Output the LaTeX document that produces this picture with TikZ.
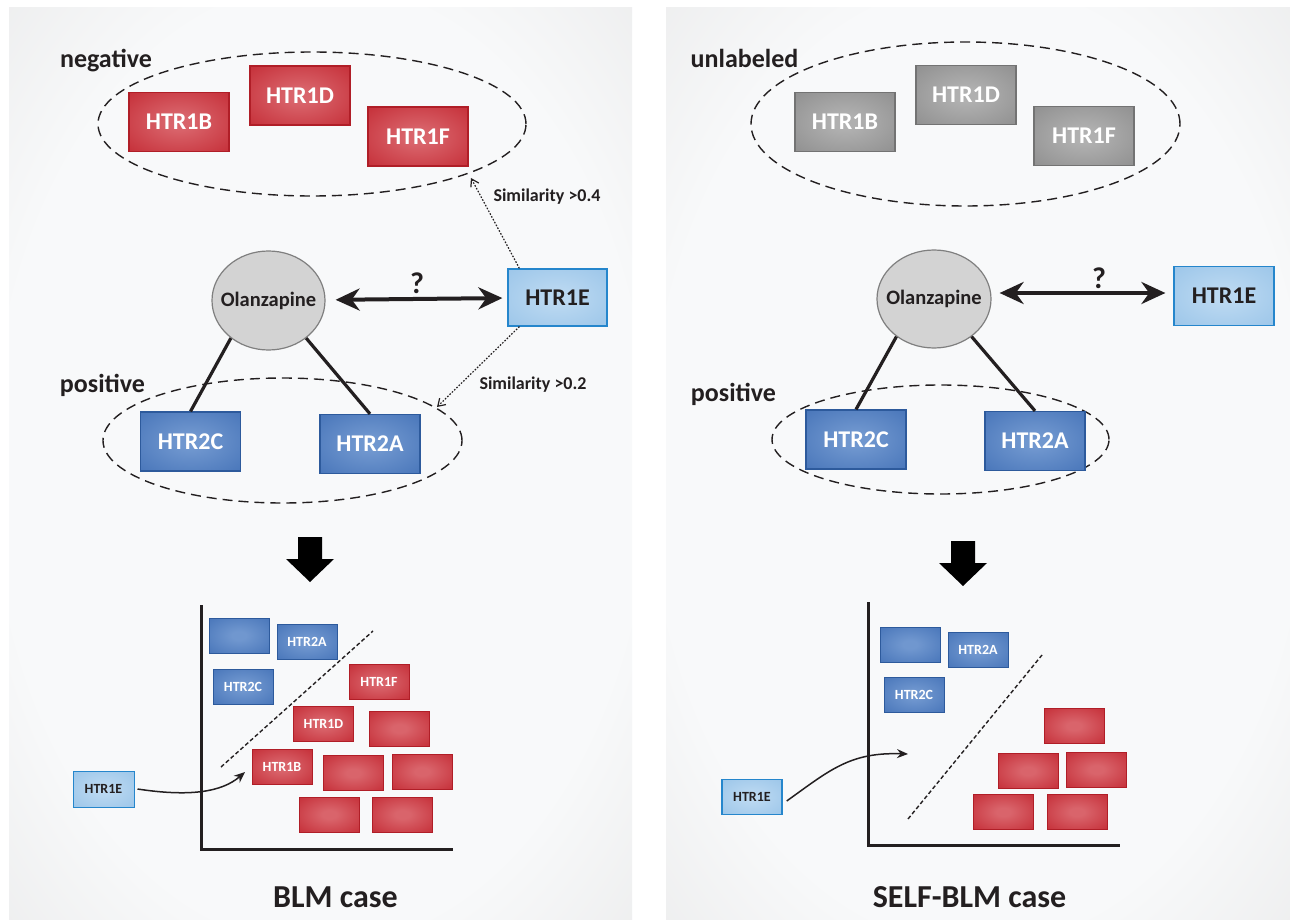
\documentclass[tikz,border=0pt]{standalone}
\usepackage{fontspec}
\setmainfont{Carlito}
\usetikzlibrary{arrows.meta,shapes.geometric}

\definecolor{redout}{HTML}{C0212B}
\definecolor{redin}{HTML}{D9646B}
\definecolor{redline}{HTML}{B01E27}
\definecolor{blueout}{HTML}{3E6DB4}
\definecolor{bluein}{HTML}{7097CF}
\definecolor{blueline}{HTML}{2D5A9C}
\definecolor{skyout}{HTML}{94C1E7}
\definecolor{skyin}{HTML}{BAD8F1}
\definecolor{skyline}{HTML}{2586CC}
\definecolor{greyout}{HTML}{878787}
\definecolor{greyin}{HTML}{B0B0B0}
\definecolor{greyline}{HTML}{737373}
\definecolor{drugfill}{HTML}{D3D3D3}
\definecolor{drugline}{HTML}{7F7F7F}
\definecolor{panelin}{HTML}{F8F9FA}
\definecolor{paneledge}{HTML}{E0E0E0}
\definecolor{ink}{HTML}{231F20}

\makeatletter
% soft centre glow for the gene boxes
\pgfdeclareradialshading[tikz@radial@inner,tikz@radial@outer]{glow}{\pgfpoint{0bp}{0bp}}{%
  color(0bp)=(tikz@radial@inner);color(6bp)=(tikz@radial@inner);
  color(44bp)=(tikz@radial@outer);color(50bp)=(tikz@radial@outer)}
\makeatother
% light panel with greyish rim
\pgfdeclareradialshading{panelshade}{\pgfpoint{0bp}{0bp}}{%
  color(0bp)=(panelin);color(26bp)=(panelin);
  color(50bp)=(paneledge);color(72bp)=(paneledge)}

\tikzset{
  gene/.style={rectangle, inner sep=0pt, line width=1.2pt,
    minimum width=100pt, minimum height=59pt,
    font=\fontsize{24}{28}\selectfont\bfseries},
  small/.style={minimum width=60pt, minimum height=35pt, line width=1pt,
    font=\fontsize{14}{16}\selectfont\bfseries},
  neg/.style={draw=redline, inner color=redin, outer color=redout, shading=glow, text=white},
  posbox/.style={draw=blueline, inner color=bluein, outer color=blueout, shading=glow, text=white},
  query/.style={draw=skyline, inner color=skyin, outer color=skyout, shading=glow, text=ink},
  unl/.style={draw=greyline, inner color=greyin, outer color=greyout, shading=glow, text=white},
  drug/.style={ellipse, draw=drugline, fill=drugfill, line width=1.2pt, inner sep=0pt},
  drugtext/.style={font=\fontsize{20.5}{24}\selectfont\bfseries, text=ink, inner sep=0pt},
  group/.style={ellipse, draw=ink, dash pattern=on 10pt off 6pt, line width=1.4pt, inner sep=0pt},
  grouplabel/.style={font=\fontsize{26}{30}\selectfont\bfseries, text=ink},
  simlabel/.style={font=\fontsize{18}{22}\selectfont\bfseries, text=ink},
  title/.style={font=\fontsize{32}{36}\selectfont\bfseries, text=ink},
  qmark/.style={font=\fontsize{30}{34}\selectfont\bfseries, text=ink},
  dbl/.style={line width=4pt, draw=ink, {Stealth[length=24pt,width=22pt]}-{Stealth[length=24pt,width=22pt]}},
  bond/.style={line width=3.2pt, draw=ink},
  simarrow/.style={line width=1.2pt, draw=ink, dash pattern=on 1.6pt off 1.6pt,
    -{Straight Barb[length=7pt,width=9pt]}},
  axis/.style={line width=3pt, draw=ink},
  split/.style={line width=1.4pt, draw=ink, dash pattern=on 4pt off 2.5pt},
  embed/.style={line width=1.5pt, draw=ink, -{Stealth[length=11pt,width=9pt]}},
  bigarrow/.style={fill=black},
}

\begin{document}
\begin{tikzpicture}[x=1pt,y=-1pt]
\useasboundingbox (0,0) rectangle (1290,920);
\fill[white] (0,0) rectangle (1290,920);

% the two panels
\shade[shading=panelshade] (9,8) rectangle (632,920);
\shade[shading=panelshade] (666,8) rectangle (1290,920);

% ---------------- BLM case ----------------
\node[grouplabel] (negL) at (106,61) {negative};
\node[group, minimum width=428pt, minimum height=144pt] (negsetL) at (312,124) {};
\node[gene, neg] (b1L) at (179,122) {HTR1B};
\node[gene, neg] (d1L) at (300,95.5) {HTR1D};
\node[gene, neg] (f1L) at (418,136.5) {HTR1F};

\node[drug, minimum width=113pt, minimum height=99pt] (olzL) at (268.5,300.5) {};
\node[drugtext] (olzLtext) at (olzL.center) {Olanzapine};
\node[gene, query, minimum width=99pt, minimum height=57pt] (e1L) at (557.5,297.5) {HTR1E};
\draw[dbl, shorten <=10pt, shorten >=5pt] (olzL) -- (e1L);
\node[qmark] (qL) at (417,283) {?};

\node[grouplabel] (posL) at (102.5,385) {positive};
\node[group, minimum width=359pt, minimum height=125pt] (possetL) at (282.5,440.5) {};
\node[gene, posbox] (c2L) at (190.5,441.5) {HTR2C};
\node[gene, posbox] (a2L) at (370,444) {HTR2A};
\draw[bond] (olzL.225) -- (c2L.north);
\draw[bond] (olzL.-45) -- (a2L.north);

\coordinate (negtipL) at (471,178);
\coordinate (postipL) at (437,407);
\draw[simarrow] ([xshift=12pt]e1L.north west) -- (negtipL);
\draw[simarrow] ([xshift=12pt]e1L.south west) -- (postipL);
\node[simlabel] (s4L) at (547,197) {Similarity >0.4};
\node[simlabel] (s2L) at (533,385) {Similarity >0.2};

\fill[bigarrow] (298,537) -- (322,537) -- (322,559) -- (334,559) -- (310,582)
  -- (286,559) -- (298,559) -- cycle;

% learned split, BLM
\coordinate (ytopL) at (201,605);
\coordinate (originL) at (201,849);
\coordinate (xendL) at (453,849);
\draw[axis] (ytopL) -- (originL) -- (xendL);
\node[gene, small, posbox] (pb1L) at (239,635.5) {};
\node[gene, small, posbox] (pa2L) at (307,641.5) {HTR2A};
\node[gene, small, posbox] (pc2L) at (243,686.5) {HTR2C};
\node[gene, small, neg] (nf1L) at (379,682) {HTR1F};
\node[gene, small, neg] (nd1L) at (323.5,723.5) {HTR1D};
\node[gene, small, neg] (nx1L) at (399.5,728.5) {};
\node[gene, small, neg] (nb1L) at (282,767) {HTR1B};
\node[gene, small, neg] (nx2L) at (353.5,773) {};
\node[gene, small, neg] (nx3L) at (422,771.5) {};
\node[gene, small, neg] (nx4L) at (329.5,814.5) {};
\node[gene, small, neg] (nx5L) at (402.5,814.5) {};
\coordinate (cutaL) at (221,767);
\coordinate (cutbL) at (373,631);
\draw[split] (cutaL) -- (cutbL);
\node[gene, small, query, minimum width=61pt, minimum height=36pt] (qe1L) at (103.5,789) {HTR1E};
\coordinate (landL) at (245,772);
\draw[embed] ([xshift=3pt]qe1L.east) .. controls (190,797) and (222,792) .. (landL);

\node[title] (tL) at (335.5,897) {BLM case};

% ---------------- SELF-BLM case ----------------
\node[grouplabel] (unlR) at (744.5,58) {unlabeled};
\node[group, minimum width=429pt, minimum height=164pt] (unsetR) at (965.5,124) {};
\node[gene, unl] (b1R) at (845,122) {HTR1B};
\node[gene, unl] (d1R) at (966,95) {HTR1D};
\node[gene, unl] (f1R) at (1084,136) {HTR1F};

\node[drug, minimum width=114pt, minimum height=98pt] (olzR) at (934,299) {};
\node[drugtext] (olzRtext) at (olzR.center) {Olanzapine};
\node[gene, query] (e1R) at (1224,296) {HTR1E};
\draw[dbl, shorten <=8pt, shorten >=8pt] (olzR.east |- 0,293) -- (e1R.west |- 0,293);
\node[qmark] (qR) at (1099,278) {?};

\node[grouplabel] (posR) at (733.5,394) {positive};
\node[group, minimum width=337pt, minimum height=109pt] (possetR) at (940.5,439.5) {};
\node[gene, posbox] (c2R) at (856,439.5) {HTR2C};
\node[gene, posbox] (a2R) at (1035,441) {HTR2A};
\draw[bond] (olzR.225) -- (c2R.north);
\draw[bond] (olzR.-45) -- (a2R.north);

\fill[bigarrow] (951,541) -- (975,541) -- (975,563) -- (987,563) -- (963,586)
  -- (939,563) -- (951,563) -- cycle;

% learned split, SELF-BLM
\coordinate (ytopR) at (868,602);
\coordinate (originR) at (868,845);
\coordinate (xendR) at (1120,845);
\draw[axis] (ytopR) -- (originR) -- (xendR);
\node[gene, small, posbox] (pb1R) at (910,644.5) {};
\node[gene, small, posbox] (pa2R) at (978,649.5) {HTR2A};
\node[gene, small, posbox] (pc2R) at (914,694.5) {HTR2C};
\node[gene, small, neg] (nx1R) at (1074,726) {};
\node[gene, small, neg] (nx2R) at (1028,771) {};
\node[gene, small, neg] (nx3R) at (1096.5,769.5) {};
\node[gene, small, neg] (nx4R) at (1003.5,812) {};
\node[gene, small, neg] (nx5R) at (1077,812) {};
\coordinate (cutaR) at (908,819);
\coordinate (cutbR) at (1042,655);
\draw[split] (cutaR) -- (cutbR);
\node[gene, small, query, line width=1.4pt] (qe1R) at (752,797) {HTR1E};
\coordinate (landR) at (908,754);
\draw[embed] ([xshift=4pt,yshift=-4pt]qe1R.east) .. controls (830,770) and (850,752) .. (landR);

\node[title] (tR) at (969.5,897) {SELF-BLM case};
\end{tikzpicture}
\end{document}
